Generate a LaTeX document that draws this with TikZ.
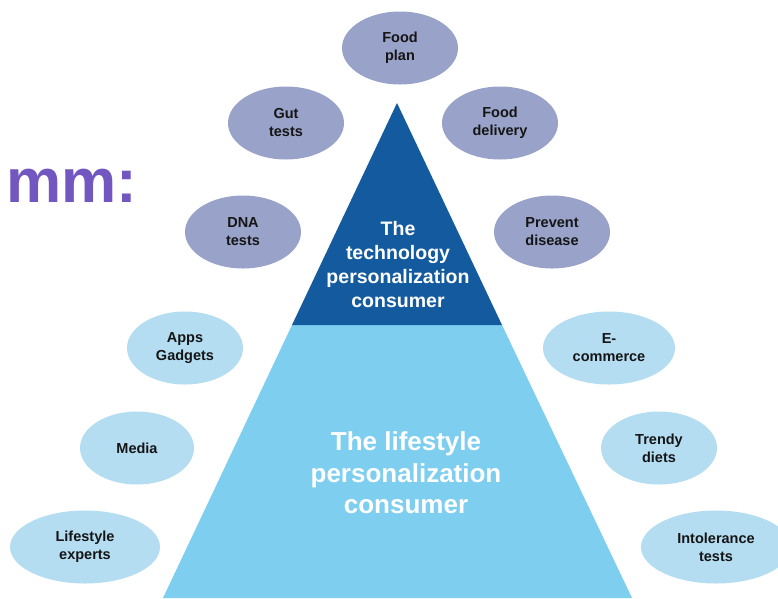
\documentclass[tikz,border=0pt]{standalone}
\usepackage{fontspec}
\setmainfont{Liberation Sans}
\usetikzlibrary{shapes.geometric}
\definecolor{techblue}{HTML}{135B9E}
\definecolor{lifeblue}{HTML}{7ECEF0}
\definecolor{greyoval}{HTML}{99A3C9}
\definecolor{skyoval}{HTML}{B5DDF2}
\definecolor{inktext}{HTML}{151515}
\definecolor{violet}{HTML}{7257C0}
\tikzset{
  oval/.style={ellipse, inner sep=0pt, minimum width=116pt, minimum height=73pt,
    align=center, text=inktext, font=\fontsize{14.5}{18}\selectfont\bfseries},
  techoval/.style={oval, fill=greyoval},
  lifeoval/.style={oval, fill=skyoval},
  tiertext/.style={align=center, text=white}
}
\begin{document}
\begin{tikzpicture}[x=1pt,y=-1pt]
\useasboundingbox (0,0) rectangle (778,598);
\fill[white] (0,0) rectangle (778,598);

% pyramid tiers
\fill[lifeblue] (163,598) -- (632,598) -- (502,325) -- (292,325) -- cycle;
\fill[techblue] (292,325) -- (502,325) -- (397,103) -- cycle;

\node[tiertext, font=\fontsize{19.5}{24}\selectfont\bfseries] (tech) at (398,265)
  {The\\technology\\personalization\\consumer};
\node[tiertext, font=\fontsize{26}{31.5}\selectfont\bfseries] (life) at (406,473)
  {The lifestyle\\personalization\\consumer};

% technology-side ovals
\node[techoval] (foodplan) at (400,48) {Food\\plan};
\node[techoval] (gut) at (286,123) {Gut\\tests};
\node[techoval] (delivery) at (500,123) {Food\\delivery};
\node[techoval] (dna) at (243,232) {DNA\\tests};
\node[techoval] (prevent) at (552,232) {Prevent\\disease};

% lifestyle-side ovals
\node[lifeoval] (apps) at (185,348) {Apps\\Gadgets};
\node[lifeoval, minimum width=132pt] (ecom) at (609,348) {E-\\commerce};
\node[lifeoval, minimum width=114pt] (media) at (137,448) {Media};
\node[lifeoval] (trendy) at (659,448) {Trendy\\diets};
\node[lifeoval, minimum width=150pt] (experts) at (85,547) {Lifestyle\\experts};
\node[lifeoval, minimum width=150pt] (intol) at (716,547) {Intolerance\\tests};

% cut-off heading fragment
\node[text=violet, font=\fontsize{62}{62}\selectfont\bfseries, anchor=base west, inner sep=0pt]
  (frag) at (6,202) {mm:};
\end{tikzpicture}
\end{document}
